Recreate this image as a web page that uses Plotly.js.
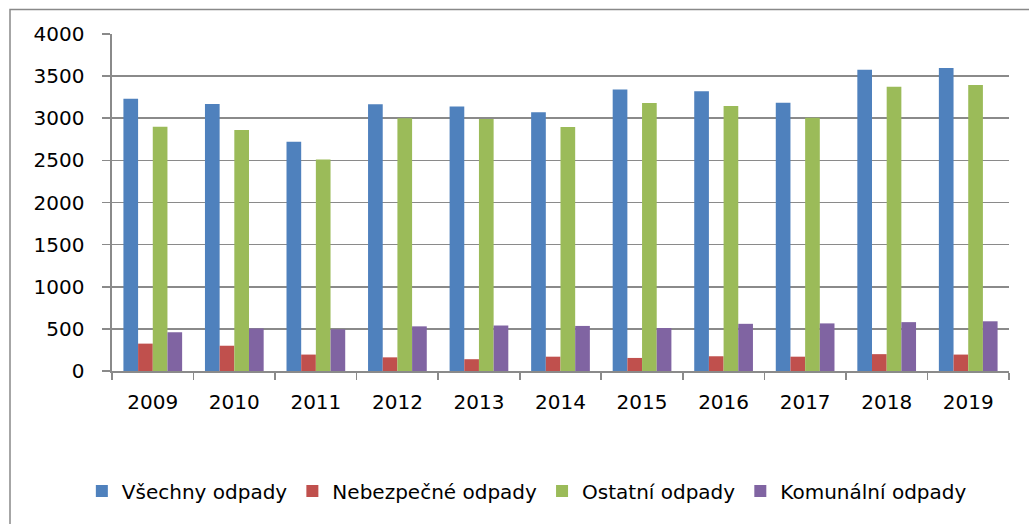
<!DOCTYPE html>
<html>
<head>
<meta charset="utf-8">
<script src="https://cdn.plot.ly/plotly-3.0.1.min.js"></script>
<style>html,body{margin:0;padding:0;background:#fff;}#chart{width:1029px;height:524px;}</style>
</head>
<body>
<div id="chart"></div>
<script>
var years = ["2009","2010","2011","2012","2013","2014","2015","2016","2017","2018","2019"];
var seriesNames = ["Všechny odpady","Nebezpečné odpady","Ostatní odpady","Komunální odpady"];
var vsechny   = [3230,3170,2720,3165,3140,3070,3340,3320,3185,3575,3595];
var nebezpecne = [325,300,195,162,140,170,155,175,170,200,195];
var ostatni   = [2900,2860,2510,3000,2990,2895,3180,3145,3005,3375,3395];
var komunalni = [460,505,495,530,540,535,510,560,565,580,590];
var colors = ["#4F81BD","#C0504D","#9BBB59","#8064A2"];

var allSeries = [vsechny, nebezpecne, ostatni, komunalni];
var traces = allSeries.map(function(vals, i){
  return {type:"bar", name:seriesNames[i], x:years, y:vals,
          marker:{color:colors[i], line:{width:0}}};
});

var L=112, R=1009, T=33.5, B=371;
var W=R-L, H=B-T;
function px(x){return (x-L)/W;}
function py(y){return (B-y)/H;}

var layout = {
  width:1029, height:524,
  margin:{l:L, r:1029-R, t:T, b:524-B, pad:0},
  paper_bgcolor:"#fff", plot_bgcolor:"#fff",
  font:{family:"DejaVu Sans, sans-serif", size:20, color:"#000"},
  barmode:"group", bargap:0.28, bargroupgap:0,
  showlegend:true,
  legend:{orientation:"h", xref:"container", yref:"container", x:0.512, y:0.063,
          xanchor:"center", yanchor:"middle", font:{size:20, color:"#000"},
          traceorder:"normal", itemwidth:30},
  xaxis:{type:"category", showgrid:false, showline:true, linecolor:"#8a8a8a", linewidth:1.6,
         ticks:"outside", tickson:"boundaries", ticklen:7, tickcolor:"#8a8a8a", tickwidth:1.6,
         ticklabelstandoff:12, tickfont:{size:20}, fixedrange:true},
  yaxis:{range:[0,4000], dtick:500, showgrid:true, gridcolor:"#8a8a8a", gridwidth:1.6,
         showline:true, linecolor:"#8a8a8a", linewidth:1.6, zeroline:false,
         ticks:"outside", ticklen:8, tickcolor:"#8a8a8a", tickwidth:1.6,
         ticklabelstandoff:14, tickfont:{size:20}, fixedrange:true},
  shapes:[{type:"rect", xref:"paper", yref:"paper",
           x0:px(10), x1:px(1060), y0:py(560), y1:py(9),
           line:{color:"#898989", width:1.5}, fillcolor:"rgba(0,0,0,0)", layer:"below"}]
};

Plotly.newPlot("chart", traces, layout, {displayModeBar:false, staticPlot:true});
</script>
</body>
</html>
